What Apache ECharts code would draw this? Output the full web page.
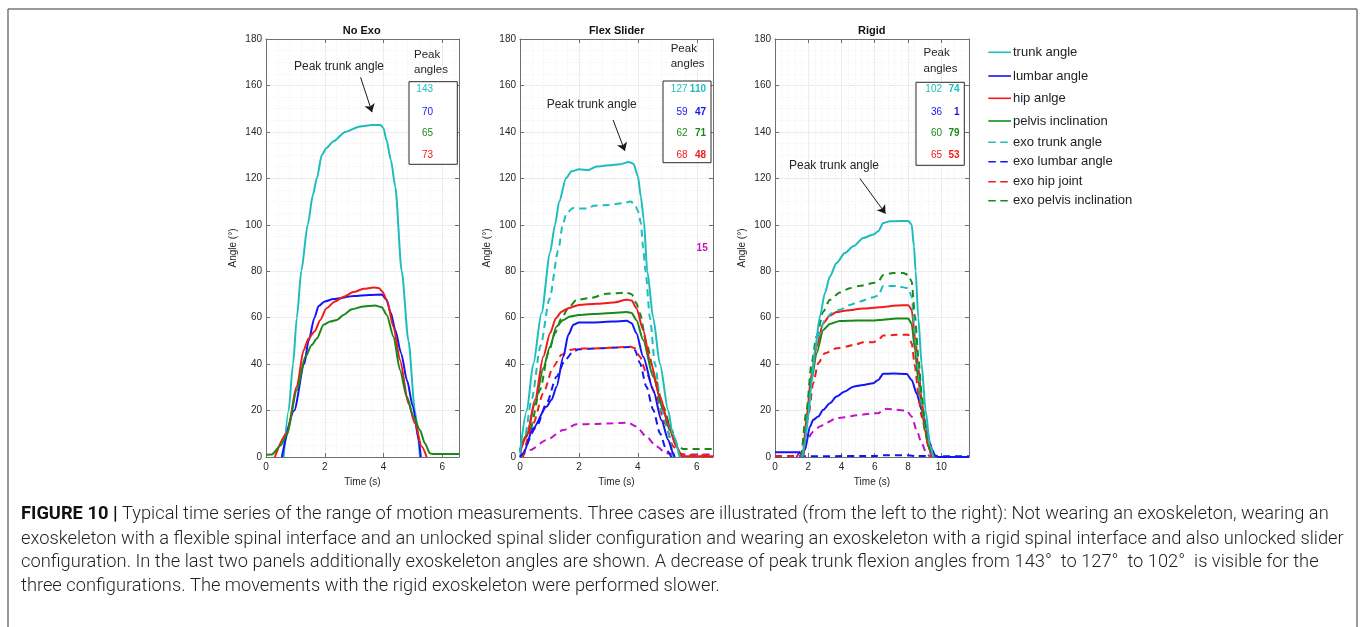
<!DOCTYPE html>
<html>
<head>
<meta charset="utf-8">
<script src="https://cdn.jsdelivr.net/npm/echarts@6/dist/echarts.min.js"></script>
<style>
  html, body { margin: 0; padding: 0; background: #ffffff; }
  #chart { width: 1360px; height: 627px; }
</style>
</head>
<body>
<div id="chart"></div>
<script>
// ---------- measured angles, [time (s), angle (deg)] ----------
// No exoskeleton
const noExoTrunk = [[0.6,0],[0.77,20],[0.92,40],[1.05,60],[1.2,80],[1.42,100],[1.6,113],[1.73,120],[1.9,130],[2.05,133],[2.3,136],[2.7,140],[3.2,142.3],[3.6,143],[3.9,143],[4.0,141.6],[4.1,136.6],[4.25,128],[4.4,116.5],[4.62,80],[4.85,50],[5.07,20],[5.24,0]];
const noExoLumbar = [[0.54,0],[0.96,20],[1.3,40],[1.45,50],[1.65,60],[1.79,65],[2.0,67],[2.3,68],[3.0,69.3],[3.5,69.8],[3.95,70],[4.1,67.7],[4.25,62],[4.4,54.7],[4.6,44.7],[4.8,33],[5.0,21.7],[5.2,7.3],[5.27,0]];
const noExoHip = [[0.3,0],[0.71,10.2],[1.05,30.3],[1.28,46],[1.45,51],[1.65,54],[1.85,59],[2.05,64],[2.35,67],[2.64,69],[2.98,71],[3.32,72.4],[3.66,73],[3.85,72.7],[3.96,71.3],[4.11,67.7],[4.34,56],[4.56,41.8],[4.85,23],[5.07,14.5],[5.3,4.5],[5.47,0]];
const noExoPelvis = [[0,1],[0.2,1.1],[0.5,5],[0.71,9.5],[1.05,28.9],[1.34,43.2],[1.56,48.3],[1.73,51],[1.96,57],[2.19,58.3],[2.41,59],[2.64,61.2],[2.92,63.6],[3.32,64.8],[3.71,65.2],[3.94,64.5],[4.11,61.2],[4.34,51.9],[4.56,37.5],[4.79,26],[5.02,17.4],[5.24,11.6],[5.41,5.9],[5.58,1.6],[5.66,1.3],[6.57,1.3]];

// Flexible spinal interface, unlocked slider
const flexTrunk = [[0,2],[0.23,20],[0.45,40],[0.73,62],[1.02,88],[1.19,100],[1.33,110],[1.56,120],[1.75,123],[2.0,123.9],[2.3,123.5],[2.6,125.1],[3.0,125.6],[3.4,126.1],[3.7,127],[3.85,126.3],[4.0,121],[4.1,112.2],[4.2,102.3],[4.32,80],[4.52,60],[4.75,40],[5.03,20],[5.18,10],[5.42,0]];
const flexLumbar = [[0,0],[0.11,1.6],[0.45,12.4],[0.9,21.7],[1.07,24.6],[1.24,30.3],[1.47,43.2],[1.64,52.6],[1.81,56.9],[2.0,57.9],[2.49,57.9],[3.16,58.3],[3.62,58.7],[3.79,57.6],[3.95,53.3],[4.18,43.2],[4.52,28.9],[4.8,15.9],[5.03,7.3],[5.2,1.6],[5.25,0]];
const flexHip = [[0,2],[0.23,8.8],[0.51,24.6],[0.79,43.2],[1.02,53.3],[1.22,59.8],[1.41,62.6],[1.64,64.1],[2.0,65.5],[2.6,66],[3.16,66.5],[3.62,67.7],[3.79,67.4],[3.95,64.1],[4.18,54.7],[4.41,41.8],[4.75,26],[5.03,14.5],[5.31,4.5],[5.48,0.4],[6.55,0.3]];
const flexPelvis = [[0,3],[0.23,9.5],[0.51,23],[0.79,38.2],[1.02,47.6],[1.24,56.2],[1.47,59],[1.69,60.5],[2.0,61.2],[2.49,61.6],[3.16,62],[3.62,62.4],[3.79,62],[3.95,59],[4.18,50.4],[4.52,34.6],[4.86,20.3],[5.08,11.6],[5.31,4.5],[5.46,0.4]];
const flexExoTrunk = [[0,0],[0.15,8],[0.4,25],[0.7,48],[1.0,68],[1.3,89],[1.45,100],[1.58,105],[1.8,107.2],[2.0,107],[2.3,107],[2.5,108.2],[3.0,108.5],[3.5,109.3],[3.75,110],[3.9,108.9],[4.0,106],[4.1,101],[4.18,90],[4.26,80],[4.41,60],[4.58,40],[4.8,20],[5.2,0]];
const flexExoLumbar = [[0.1,0.5],[0.56,13],[0.9,23],[1.24,34.6],[1.53,41.8],[1.81,45.4],[2.0,46.4],[2.71,46.8],[3.39,47.2],[3.73,47.4],[3.9,46.1],[4.07,40.4],[4.29,30.3],[4.52,20.3],[4.75,10.2],[4.97,3],[5.14,0]];
const flexExoHip = [[0.1,0],[0.45,14.5],[0.79,27.4],[1.13,38.9],[1.41,44],[1.69,46.1],[2.0,46.7],[2.71,46.8],[3.39,47.3],[3.73,47.6],[3.9,46.8],[4.07,43.2],[4.29,36.1],[4.63,26],[4.92,14.5],[5.2,4.5],[5.42,1.6],[5.6,0.8],[6.55,0.8]];
const flexExoPelvis = [[0,3],[0.34,11.6],[0.68,28.9],[0.96,44.7],[1.19,53.3],[1.41,59.8],[1.64,64.1],[1.92,67.7],[2.37,68.4],[2.94,70.3],[3.62,70.8],[3.79,70.1],[3.95,66.2],[4.07,61.9],[4.29,49],[4.58,34.6],[4.86,21.7],[5.14,11.6],[5.37,4.5],[5.54,3.4],[6.55,3.4]];
const flexExoOther = [[0,0],[0.34,3],[0.9,7.3],[1.47,11.6],[1.92,14.1],[2.6,14.2],[3.16,14.5],[3.67,14.8],[3.95,13.1],[4.29,8.8],[4.63,4.5],[4.97,1.6],[5.42,1.1],[6.55,1.1]];

// Rigid spinal interface, unlocked slider
const rigidTrunk = [[1.65,0],[1.8,5.9],[2.0,17.4],[2.2,31.8],[2.4,46.1],[2.7,60.5],[3.0,70.5],[3.3,77.7],[3.7,83.5],[4.2,87.8],[4.71,90.7],[5.31,94.3],[5.91,95.8],[6.21,97.2],[6.51,100.8],[6.91,101.5],[7.52,101.6],[8.02,101.6],[8.22,100.1],[8.36,90.7],[8.46,80],[8.62,60],[8.82,40],[9.06,20],[9.32,5],[9.52,0]];
const rigidLumbar = [[0,2],[1.4,2],[1.6,1.2],[1.8,3],[2.1,13],[2.3,16],[2.6,17.4],[2.9,20.3],[3.3,23.1],[3.7,26],[4.2,28.2],[4.71,30.3],[5.31,31],[5.91,31.8],[6.21,33.2],[6.51,35.8],[7.11,36],[7.92,35.7],[8.22,33.2],[8.52,27.4],[8.82,20.3],[9.12,13],[9.32,5.9],[9.46,3],[9.62,0.7],[9.82,0],[11.67,0]];
const rigidHip = [[1.7,0],[1.9,17.4],[2.2,36],[2.5,47.6],[2.9,57.6],[3.3,60.9],[3.7,62.4],[4.3,63.1],[5.31,63.9],[6.31,64.5],[7.31,65.2],[8.02,65.4],[8.22,63.4],[8.42,51.9],[8.62,38.9],[8.82,24.6],[9.02,13],[9.22,4.5],[9.42,0]];
const rigidPelvis = [[1.7,0],[1.9,14.5],[2.2,33.2],[2.5,44.7],[2.9,54.7],[3.3,57.3],[3.9,58.6],[4.9,58.8],[5.91,58.8],[6.31,59],[7.31,59.6],[8.02,59.6],[8.22,57.3],[8.42,46.1],[8.62,33.2],[8.82,21.7],[9.02,11.6],[9.22,4.5],[9.42,0]];
const rigidExoTrunk = [[1.6,0],[1.9,17.4],[2.2,37.5],[2.6,51.9],[3.0,59],[3.4,61.9],[3.9,63.4],[4.5,65.5],[5.11,67],[5.91,68.8],[6.21,69.5],[6.51,73.6],[7.31,73.6],[8.02,72.7],[8.22,69.1],[8.42,53.3],[8.62,37.5],[8.82,23.1],[9.12,11.6],[9.32,4.5],[9.52,0]];
const rigidExoLumbar = [[0,0.3],[6.0,0.4],[6.5,0.7],[8.0,0.7],[8.5,0.4],[11.67,0.3]];
const rigidExoHip = [[0,0.4],[1.65,0.4],[2.0,17.4],[2.3,31.8],[2.6,40.4],[3.0,44.7],[3.7,46.8],[4.3,47.6],[4.91,48.6],[5.31,49.4],[5.91,49.4],[6.21,50.4],[6.51,52.3],[7.31,52.6],[8.02,52.6],[8.22,49],[8.42,38.9],[8.62,27.4],[8.82,17.4],[9.12,8.8],[9.32,3],[9.52,0]];
const rigidExoPelvis = [[1.6,0],[1.9,20.3],[2.2,40.4],[2.5,51.9],[2.9,62.6],[3.3,67.7],[3.9,70.8],[4.5,72.7],[5.11,73.7],[5.91,74.9],[6.21,75.6],[6.51,78.4],[7.11,79.2],[7.72,79.2],[8.02,78.4],[8.22,75.6],[8.42,60.5],[8.62,43.2],[8.82,27.4],[9.02,14.5],[9.22,5.9],[9.42,0.9],[9.62,0]];
const rigidExoOther = [[1.3,0],[1.6,3],[1.9,7.3],[2.3,10.9],[2.7,13.1],[3.1,14.8],[3.7,16.7],[4.2,17.1],[4.91,18],[5.91,18.8],[6.21,18.8],[6.51,20.3],[6.71,20.8],[7.31,20.3],[7.92,20],[8.22,17.4],[8.52,11.6],[8.82,5.9],[9.12,1.6],[9.32,0]];

// ---------- axes / labels ----------
const panelTitles = ['No Exo', 'Flex Slider', 'Rigid'];
const timeMax = [6.57, 6.55, 11.67];
const yTicks = { min: 0, max: 180, interval: 20 };
const xTickInterval = 2;
const legendNames = ['trunk angle', 'lumbar angle', 'hip anlge', 'pelvis inclination',
                     'exo trunk angle', 'exo lumbar angle', 'exo hip joint', 'exo pelvis inclination'];
const captionLines = [
  'Typical time series of the range of motion measurements. Three cases are illustrated (from the left to the right): Not wearing an exoskeleton, wearing an',
  'exoskeleton with a flexible spinal interface and an unlocked spinal slider configuration and wearing an exoskeleton with a rigid spinal interface and also unlocked slider',
  'configuration. In the last two panels additionally exoskeleton angles are shown. A decrease of peak trunk flexion angles from 143\u00b0  to 127\u00b0  to 102\u00b0  is visible for the',
  'three configurations. The movements with the rigid exoskeleton were performed slower.'
];

// ---------- styling ----------
const FONT = '"Liberation Sans", Arial, Helvetica, sans-serif';
const CAPTION_FONT = 'Roboto, "Liberation Sans", Arial, sans-serif';
const C = { cyan: '#1dbdbd', blue: '#1414f5', red: '#f21b1b', green: '#198a19', magenta: '#c312c3' };
const AXIS = '#6f6f6f';
const TEXT = '#262626';
const DASH = [7, 5];

const grids = [
  { left: 266, top: 39, width: 193, height: 418 },
  { left: 520, top: 39, width: 193, height: 418 },
  { left: 775, top: 39, width: 194, height: 418 }
];

function peak(arr) { return Math.round(Math.max.apply(null, arr.map(p => p[1]))); }

const xAxes = [], yAxes = [];
grids.forEach((g, i) => {
  const common = { type: 'value', gridIndex: i, min: 0, max: timeMax[i], interval: xTickInterval,
    axisLine: { show: true, onZero: false, lineStyle: { color: AXIS, width: 1 } },
    axisTick: { show: true, inside: true, length: 4, lineStyle: { color: AXIS } } };
  xAxes.push(Object.assign({}, common, {
    position: 'bottom',
    axisLabel: { show: true, showMaxLabel: false, fontSize: 10, color: TEXT, margin: 5, fontFamily: FONT },
    splitLine: { show: true, lineStyle: { color: '#ececec', width: 1 } },
    minorTick: { show: false, splitNumber: 5 },
    minorSplitLine: { show: true, lineStyle: { color: '#f2f2f2', width: 1, type: 'dotted' } },
    name: 'Time (s)', nameLocation: 'middle', nameGap: 16,
    nameTextStyle: { fontSize: 10, color: TEXT, fontFamily: FONT }
  }));
  xAxes.push(Object.assign({}, common, {
    position: 'top', axisLabel: { show: false }, splitLine: { show: false }
  }));
  const ycommon = { type: 'value', gridIndex: i, min: yTicks.min, max: yTicks.max, interval: yTicks.interval,
    axisLine: { show: true, onZero: false, lineStyle: { color: AXIS, width: 1 } },
    axisTick: { show: true, inside: true, length: 4, lineStyle: { color: AXIS } } };
  yAxes.push(Object.assign({}, ycommon, {
    position: 'left',
    axisLabel: { show: true, fontSize: 10, color: TEXT, margin: 4, fontFamily: FONT },
    splitLine: { show: true, lineStyle: { color: '#ececec', width: 1 } },
    minorTick: { show: false, splitNumber: 4 },
    minorSplitLine: { show: true, lineStyle: { color: '#f2f2f2', width: 1, type: 'dotted' } },
    name: 'Angle (\u00b0)', nameLocation: 'middle', nameGap: 28, nameRotate: 90,
    nameTextStyle: { fontSize: 10, color: TEXT, fontFamily: FONT }
  }));
  yAxes.push(Object.assign({}, ycommon, {
    position: 'right', axisLabel: { show: false }, splitLine: { show: false }
  }));
});

function line(panel, data, color, dashed, extra) {
  return Object.assign({
    type: 'line', xAxisIndex: panel * 2, yAxisIndex: panel * 2, data: data,
    symbol: 'none', showSymbol: false, smooth: 0.25, smoothMonotone: 'x', clip: true,
    silent: true, animation: false,
    lineStyle: { color: color, width: 2, type: dashed ? DASH : 'solid' }
  }, extra || {});
}

// arrows pointing at the peak trunk angle, placed in data coordinates
function arrow(from, to) {
  return { silent: true, symbol: ['none', 'arrow'], symbolSize: 8, animation: false,
    label: { show: false }, lineStyle: { color: '#1a1a1a', width: 1, type: 'solid' },
    emphasis: { disabled: true },
    data: [[{ coord: from }, { coord: to }]] };
}

const series = [
  line(0, noExoTrunk, C.cyan, false, { markLine: arrow([3.22, 163.5], [3.61, 148.5]) }),
  line(0, noExoLumbar, C.blue, false),
  line(0, noExoHip, C.red, false),
  line(0, noExoPelvis, C.green, false),

  line(1, flexExoOther, C.magenta, true),
  line(1, flexExoLumbar, C.blue, true),
  line(1, flexExoHip, C.red, true),
  line(1, flexExoPelvis, C.green, true),
  line(1, flexExoTrunk, C.cyan, true),
  line(1, flexLumbar, C.blue, false),
  line(1, flexPelvis, C.green, false),
  line(1, flexHip, C.red, false),
  line(1, flexTrunk, C.cyan, false, { markLine: arrow([3.16, 145.1], [3.56, 131.8]) }),

  line(2, rigidExoLumbar, C.blue, true),
  line(2, rigidExoOther, C.magenta, true),
  line(2, rigidLumbar, C.blue, false),
  line(2, rigidExoHip, C.red, true),
  line(2, rigidPelvis, C.green, false),
  line(2, rigidHip, C.red, false),
  line(2, rigidExoTrunk, C.cyan, true),
  line(2, rigidExoPelvis, C.green, true),
  line(2, rigidTrunk, C.cyan, false, { markLine: arrow([5.11, 119.9], [6.65, 104.8]) })
];

// ---------- annotations ----------
const graphic = [];
function txt(x, y, text, opts) {
  graphic.push({ type: 'text', x: x, y: y, silent: true, z: 100,
    style: Object.assign({ text: text, fill: TEXT, fontFamily: FONT, fontSize: 10,
      align: 'center', verticalAlign: 'middle' }, opts || {}) });
}

// panel titles
const titleX = [361.7, 616.7, 871.7];
panelTitles.forEach((t, i) => txt(titleX[i], 31, t, { fontWeight: 'bold', fontSize: 11, fill: '#111' }));

// "Peak trunk angle" labels
txt(339, 67, 'Peak trunk angle', { fontSize: 12 });
txt(591.7, 105, 'Peak trunk angle', { fontSize: 12 });
txt(834, 165.7, 'Peak trunk angle', { fontSize: 12 });

// peak-angle boxes
const boxes = [
  { x: 409, y: 81.7, w: 48.3, h: 82.6, head: 414, headY: [55, 70] },
  { x: 663, y: 81, w: 48, h: 81.7, head: 670.7, headY: [49, 64.3] },
  { x: 916, y: 82.3, w: 48.3, h: 83, head: 923.5, headY: [53.3, 69] }
];
const rowY = [89.7, 112.5, 133.5, 155.5];
boxes.forEach(b => {
  graphic.push({ type: 'rect', silent: true, z: 90,
    shape: { x: b.x, y: b.y, width: b.w, height: b.h },
    style: { fill: '#ffffff', stroke: '#2a2a2a', lineWidth: 1 } });
  txt(b.head, b.headY[0], 'Peak', { align: 'left', fontSize: 11.5 });
  txt(b.head, b.headY[1], 'angles', { align: 'left', fontSize: 11.5 });
});

// No Exo: body segment peaks
[[noExoTrunk, C.cyan], [noExoLumbar, C.blue], [noExoPelvis, C.green], [noExoHip, C.red]]
  .forEach((r, k) => txt(433, rowY[k], String(peak(r[0])), { align: 'right', fill: r[1] }));

// exo panels: body peak (left), exoskeleton peak (right, bold)
const exoRows = [
  { bodyX: 687.5, exoX: 706, rows: [[flexTrunk, flexExoTrunk, C.cyan], [flexLumbar, flexExoLumbar, C.blue],
                                    [flexPelvis, flexExoPelvis, C.green], [flexHip, flexExoHip, C.red]] },
  { bodyX: 942, exoX: 959.5, rows: [[rigidTrunk, rigidExoTrunk, C.cyan], [rigidLumbar, rigidExoLumbar, C.blue],
                                    [rigidPelvis, rigidExoPelvis, C.green], [rigidHip, rigidExoHip, C.red]] }
];
exoRows.forEach(p => p.rows.forEach((r, k) => {
  txt(p.bodyX, rowY[k], String(peak(r[0])), { align: 'right', fill: r[2] });
  txt(p.exoX, rowY[k], String(peak(r[1])), { align: 'right', fill: r[2], fontWeight: 'bold' });
}));
txt(707.7, 248.3, String(peak(flexExoOther)), { align: 'right', fill: C.magenta, fontWeight: 'bold' });

// shared legend
const legendColors = [C.cyan, C.blue, C.red, C.green, C.cyan, C.blue, C.red, C.green];
const legendY = [52.3, 76, 98.3, 121, 142.3, 161.7, 181.7, 200.7];
legendNames.forEach((name, k) => {
  const dashed = k >= 4;
  graphic.push({ type: 'line', silent: true, z: 100,
    shape: { x1: 988.3, y1: legendY[k], x2: 1011, y2: legendY[k] },
    style: { stroke: legendColors[k], lineWidth: 1.6, lineDash: dashed ? [7.5, 4.5] : null } });
  txt(1013, legendY[k], name, { align: 'left', fontSize: 13, fill: '#222' });
});

// frame around figure and caption
[[8, 9, 1357, 9], [8, 9, 8, 627], [1357, 9, 1357, 627]].forEach(s => {
  graphic.push({ type: 'line', silent: true, z: 100,
    shape: { x1: s[0], y1: s[1], x2: s[2], y2: s[3] },
    style: { stroke: '#777777', lineWidth: 1.5 } });
});

// caption, sized so the full-width line spans the caption column
const measure = document.createElement('canvas').getContext('2d');
measure.font = '300 15px ' + CAPTION_FONT;
const capSize = 15 * 1324 / measure.measureText(captionLines[1]).width;
const capY = [514.5, 539, 562.7, 586.3];
captionLines.forEach((t, k) => {
  const style = { text: k === 0 ? '{b|FIGURE 10 |} ' + t : t, x: 0, y: 0,
    fill: '#1f1f1f', fontFamily: CAPTION_FONT, fontWeight: 300, fontSize: capSize,
    align: 'left', verticalAlign: 'middle' };
  if (k === 0) style.rich = { b: { fontWeight: 'bold', fill: '#111111', fontFamily: CAPTION_FONT, fontSize: capSize } };
  graphic.push({ type: 'text', x: 21, y: capY[k], silent: true, z: 100, style: style });
});

const chart = echarts.init(document.getElementById('chart'), null, { renderer: 'canvas' });
chart.setOption({
  animation: false,
  backgroundColor: '#ffffff',
  grid: grids.map(g => Object.assign({ show: true, backgroundColor: '#ffffff', borderWidth: 0,
    containLabel: false, outerBoundsMode: 'none' }, g)),
  xAxis: xAxes,
  yAxis: yAxes,
  series: series,
  graphic: graphic
});
</script>
</body>
</html>
